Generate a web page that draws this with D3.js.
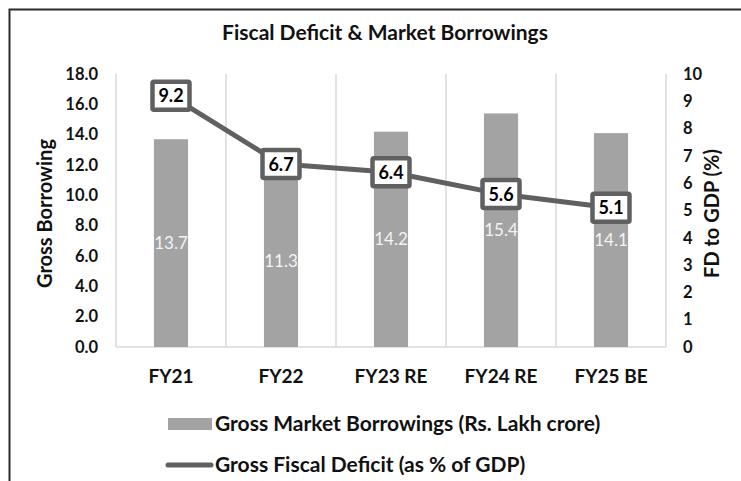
<!DOCTYPE html>
<html>
<head>
<meta charset="utf-8">
<script src="https://cdn.jsdelivr.net/npm/d3@7"></script>
<style>
  body { margin: 0; background: #fff; }
  svg { font-family: Lato, "Open Sans", sans-serif; }
</style>
</head>
<body>
<div id="chart"></div>
<script>
// chart values
var categories = ["FY21", "FY22", "FY23 RE", "FY24 RE", "FY25 BE"]
var borrowings = [13.7, 11.3, 14.2, 15.4, 14.1]
var deficit = [9.2, 6.7, 6.4, 5.6, 5.1]
var leftTicks = [0, 2, 4, 6, 8, 10, 12, 14, 16, 18]
var rightTicks = [0, 1, 2, 3, 4, 5, 6, 7, 8, 9, 10]
var legendLabels = ["Gross Market Borrowings (Rs. Lakh crore)", "Gross Fiscal Deficit (as % of GDP)"]

var width = 741, height = 481
var margin = {top: 74, right: 75, bottom: 134, left: 116}
var plotW = width - margin.left - margin.right
var plotH = height - margin.top - margin.bottom

var barColor = "#a3a3a3"
var lineColor = "#606060"
var gridColor = "#d9d9d9"
var textColor = "#111"

var svg = d3.select("#chart").append("svg")
    .attr("width", width)
    .attr("height", height)

// outer frame: only top and left edges show
svg.append("path")
    .attr("d", "M9.5,481V9.5H741")
    .attr("fill", "none")
    .attr("stroke", "#2a2a2a")
    .attr("stroke-width", 2)

svg.append("text")
    .attr("x", 385).attr("y", 40)
    .attr("text-anchor", "middle")
    .style("font-size", "21px")
    .style("font-weight", "bold")
    .attr("fill", textColor)
    .text("Fiscal Deficit & Market Borrowings")

var plot = svg.append("g")
    .attr("transform", `translate(${margin.left},${margin.top})`)

var xScale = d3.scaleBand().domain(categories).range([0, plotW]).padding(0)
var yLeft = d3.scaleLinear().domain([0, 18]).range([plotH, 0])
var yRight = d3.scaleLinear().domain([0, 10]).range([plotH, 0])

// vertical separators between categories
var seps = categories.map(c => xScale(c)).concat([plotW])
plot.selectAll(".sep").data(seps).enter().append("line")
    .attr("class", "sep")
    .attr("x1", d => d).attr("x2", d => d)
    .attr("y1", 0).attr("y2", plotH)
    .attr("stroke", gridColor)
    .attr("stroke-width", 1.5)

plot.append("line")
    .attr("x1", 0).attr("x2", plotW)
    .attr("y1", plotH).attr("y2", plotH)
    .attr("stroke", gridColor)
    .attr("stroke-width", 1.5)

// bars
var barW = xScale.bandwidth() * 0.31
plot.selectAll(".bar").data(borrowings).enter().append("rect")
    .attr("class", "bar")
    .attr("x", (d, i) => xScale(categories[i]) + xScale.bandwidth() / 2 - barW / 2)
    .attr("y", d => yLeft(d))
    .attr("width", barW)
    .attr("height", d => plotH - yLeft(d))
    .attr("fill", barColor)

plot.selectAll(".barLabel").data(borrowings).enter().append("text")
    .attr("class", "barLabel")
    .attr("x", (d, i) => xScale(categories[i]) + xScale.bandwidth() / 2)
    .attr("y", d => (yLeft(d) + plotH) / 2)
    .attr("dy", "0.35em")
    .attr("text-anchor", "middle")
    .style("font-size", "17px")
    .attr("fill", "#f4f4f4")
    .text(d => d.toFixed(1))

// axes
var axLeft = plot.append("g")
    .call(d3.axisLeft(yLeft).tickValues(leftTicks).tickSize(0).tickPadding(18).tickFormat(d3.format(".1f")))
axLeft.select(".domain").remove()

var axRight = plot.append("g")
    .attr("transform", `translate(${plotW},0)`)
    .call(d3.axisRight(yRight).tickValues(rightTicks).tickSize(0).tickPadding(17).tickFormat(d3.format("d")))
axRight.select(".domain").remove()

var axBottom = plot.append("g")
    .attr("transform", `translate(0,${plotH})`)
    .call(d3.axisBottom(xScale).tickSize(0).tickPadding(23))
axBottom.select(".domain").remove()

axLeft.selectAll("text").style("font-size", "16.5px")
axRight.selectAll("text").style("font-size", "16.5px")
axBottom.selectAll("text").style("font-size", "19px")
plot.selectAll(".tick text")
    .style("font-family", "Lato, 'Open Sans', sans-serif")
    .style("font-weight", "bold")
    .attr("fill", textColor)

// axis titles
svg.append("text")
    .attr("transform", `translate(52,${margin.top + plotH / 2 + 3}) rotate(-90)`)
    .attr("text-anchor", "middle")
    .style("font-size", "20px")
    .style("font-weight", "bold")
    .attr("fill", textColor)
    .text("Gross Borrowing")

svg.append("text")
    .attr("transform", `translate(719,${margin.top + plotH / 2 + 3}) rotate(-90)`)
    .attr("text-anchor", "middle")
    .style("font-size", "20px")
    .style("font-weight", "bold")
    .attr("fill", textColor)
    .text("FD to GDP (%)")

// deficit line
var line = d3.line()
    .x((d, i) => xScale(categories[i]) + xScale.bandwidth() / 2)
    .y(d => yRight(d))

plot.append("path")
    .datum(deficit)
    .attr("d", line)
    .attr("fill", "none")
    .attr("stroke", lineColor)
    .attr("stroke-width", 5)
    .attr("stroke-linejoin", "round")

var boxes = plot.selectAll(".fdLabel").data(deficit).enter().append("g")
    .attr("class", "fdLabel")
    .attr("transform", (d, i) => `translate(${xScale(categories[i]) + xScale.bandwidth() / 2},${yRight(d)})`)

boxes.append("rect")
    .attr("x", -18.5).attr("y", -14)
    .attr("width", 37).attr("height", 28)
    .attr("fill", "#fff")
    .attr("stroke", lineColor)
    .attr("stroke-width", 4.5)
    .attr("rx", 1.5)

boxes.append("text")
    .attr("text-anchor", "middle")
    .attr("dy", "0.36em")
    .style("font-size", "18px")
    .style("font-weight", "bold")
    .attr("fill", "#000")
    .text(d => d.toFixed(1))

// legend
var legend = svg.append("g")

legend.append("rect")
    .attr("x", 168).attr("y", 418)
    .attr("width", 44).attr("height", 12)
    .attr("fill", barColor)

legend.append("line")
    .attr("x1", 168).attr("x2", 211)
    .attr("y1", 465).attr("y2", 465)
    .attr("stroke", lineColor)
    .attr("stroke-width", 5)
    .attr("stroke-linecap", "round")

legend.selectAll(".legText").data(legendLabels).enter().append("text")
    .attr("class", "legText")
    .attr("x", 215)
    .attr("y", (d, i) => 424 + i * 41)
    .attr("dy", "0.35em")
    .style("font-size", "21px")
    .style("font-weight", "bold")
    .attr("fill", textColor)
    .text(d => d)
</script>
</body>
</html>
